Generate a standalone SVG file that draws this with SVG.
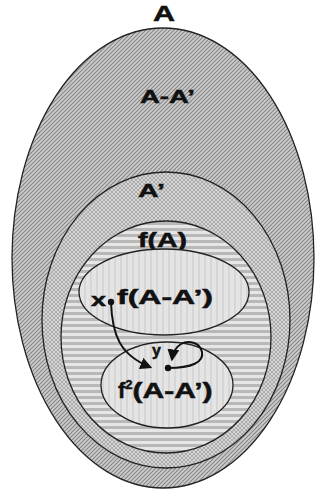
<svg xmlns="http://www.w3.org/2000/svg" width="323" height="489" viewBox="0 0 323 489">
<style>
.lbl{font-family:"Liberation Sans",Arial,sans-serif;font-weight:bold;fill:#111;stroke:#111;stroke-width:0.5;text-anchor:start}
.set{stroke:#222;stroke-width:1.3}
.con{fill:none;stroke:#111;stroke-width:2}
</style>
<defs>
<pattern id="diag" width="4" height="4" patternUnits="userSpaceOnUse">
<rect width="4" height="4" fill="#cdcdcd"/>
<path d="M-1,5 L5,-1 M-1,1 L1,-1 M3,5 L5,3" stroke="#858585" stroke-width="1.1"/>
</pattern>
<pattern id="cross" width="4" height="4" patternUnits="userSpaceOnUse">
<rect width="4" height="4" fill="#d6d6d6"/>
<path d="M-1,5 L5,-1 M-1,-1 L5,5" stroke="#a0a0a0" stroke-width="0.8"/>
</pattern>
<pattern id="horiz" width="6" height="6" patternUnits="userSpaceOnUse">
<rect width="6" height="6" fill="#e6e6e6"/>
<rect y="0" width="6" height="3" fill="#b8b8b8"/>
</pattern>
<pattern id="light" width="6" height="6" patternUnits="userSpaceOnUse">
<rect width="6" height="6" fill="#e4e4e4"/>
<rect x="0" width="2" height="6" fill="#d6d6d6"/>
</pattern>
<marker id="ah" viewBox="0 0 10 10" refX="8" refY="5" markerWidth="6" markerHeight="6" orient="auto" markerUnits="strokeWidth">
<path d="M0,0 L10,5 L0,10 z" fill="#111"/>
</marker>
</defs>
<rect width="323" height="489" fill="#fff"/>
<g id="A">
<ellipse class="set" cx="163" cy="258" rx="151" ry="230" fill="url(#diag)"/>
<text class="lbl" x="153" y="21" font-size="22" textLength="22" lengthAdjust="spacingAndGlyphs">A</text>
<text class="lbl" x="140" y="103" font-size="18" textLength="55" lengthAdjust="spacingAndGlyphs">A-A’</text>
</g>
<g id="Aprime">
<ellipse class="set" cx="166" cy="320" rx="124" ry="148" fill="url(#cross)"/>
<text class="lbl" x="138" y="197" font-size="19" textLength="27" lengthAdjust="spacingAndGlyphs">A’</text>
</g>
<g id="fA">
<ellipse class="set" cx="166" cy="337" rx="105" ry="116" fill="url(#horiz)"/>
<text class="lbl" x="138" y="247" font-size="20" textLength="49" lengthAdjust="spacingAndGlyphs">f(A)</text>
</g>
<g id="fAA">
<ellipse class="set" cx="164" cy="292" rx="85" ry="43" fill="url(#light)"/>
<text class="lbl" x="117" y="304" font-size="20" textLength="96" lengthAdjust="spacingAndGlyphs">f(A-A’)</text>
<text class="lbl" x="91" y="306" font-size="19" textLength="15" lengthAdjust="spacingAndGlyphs">x</text>
</g>
<g id="f2AA">
<ellipse class="set" cx="167" cy="385" rx="66" ry="43" fill="url(#light)"/>
<text class="lbl" x="118" y="398" font-size="22">f<tspan font-size="13" dy="-9">2</tspan><tspan dy="9" textLength="80" lengthAdjust="spacingAndGlyphs">(A-A’)</tspan></text>
<text class="lbl" x="152" y="356" font-size="16">y</text>
</g>
<g id="connectors">
<circle cx="111" cy="302" r="3.2" fill="#111"/>
<circle cx="168" cy="368" r="3.2" fill="#111"/>
<path class="con" d="M111,302 C112,335 120,355 150,367" marker-end="url(#ah)"/>
<path class="con" d="M168,368 C192,368 204,362 202,352 C200,342 188,340 181,344 C176,347 173,352 172,359" marker-end="url(#ah)"/>
</g>
</svg>
